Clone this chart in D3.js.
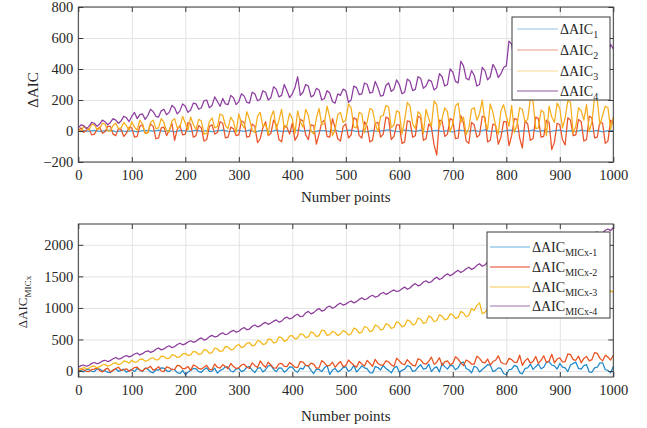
<!DOCTYPE html>
<html>
<head>
<meta charset="utf-8">
<script src="https://cdn.jsdelivr.net/npm/d3@7"></script>
<style>
  body { margin: 0; background: #fff; }
  svg text { font-family: "Liberation Serif", "DejaVu Serif", serif; fill: #262626; }
</style>
</head>
<body>
<div id="chart"></div>
<script>
const width = 647
const height = 428

const xTicks = [0, 100, 200, 300, 400, 500, 600, 700, 800, 900, 1000]
const yTicksTop = [-200, 0, 200, 400, 600, 800]
const yTicksBottom = [0, 500, 1000, 1500, 2000]

// top panel series (sampled evenly over 0..1000)
const aic1 = [0,3,-2,4,-3,2,5,-4,1,-2, 3,-5,2,4,-1,6,-3,2,-6,4, 1,-3,5,-2,3,-4,2,6,-1,-3,
  4,-2,5,-5,2,3,-4,6,-2,1, -3,5,-1,4,-6,2,3,-2,5,-4, 2,6,-3,1,-5,4,-2,3,7,-1,
  -4,5,2,-3,6,-5,1,4,-2,3, -6,5,2,-1,4,-3,7,-2,1,-5, 3,6,-4,2,-1,5,-3,4,-6,2,
  5,-2,3,-4,6,1,-3,4,-5,2, 3]
const aic2 = [0,20,-10,5,15,-25,-20,10,25,-15,-5,30,30,-20,-30,15,10,-35,-15,25,
  20,-40,-35,30,40,-15,-10,45,30,-50,-45,20,25,-30,5,50,-60,10,35,-25,
  -20,55,45,-40,-30,35,20,-65,-55,30,40,-20,-10,60,50,-45,-40,25,15,-30,
  -25,65,55,-40,-35,45,30,-75,-50,20,60,-30,-15,70,40,-55,-70,35,25,-20,
  50,-60,-30,75,65,-25,-55,40,35,-85,-20,55,70,-35,-40,80,20,-50,-65,30,
  45,-45,-25,85,75,-30,-45,60,30,-70,-60,50,55,-40,-20,90,80,-55,-35,40,
  40,-80,-70,65,60,-40,-30,95,85,-60,-50,45,25,-90,-155,70,65,-35,-20,80,
  70,-50,-45,100,50,-65,-80,55,40,-40,-25,95,90,-70,-60,45,35,-85,-40,60,
  60,-95,-30,80,75,-45,-110,65,45,-60,-50,90,80,-40,-35,70,55,-120,-70,50,
  40,-55,-90,85,70,-30,-25,75,60,-65,-55,95,85,-45,-40,60,50,-80,-65,70,
  45]
const aic3 = [10,-5,30,20,5,45,40,10,15,50,45,0,0,35,50,15,20,55,35,5,
  60,25,5,70,45,-15,-10,55,70,15,20,80,55,0,-5,65,80,20,25,95,
  50,5,90,40,10,75,65,-20,-15,60,85,20,30,110,100,35,15,90,60,-10,
  110,50,20,125,75,5,-10,95,120,30,45,-25,90,130,10,70,140,15,35,115,
  80,-15,130,60,25,140,100,0,-20,85,145,40,50,160,90,-30,10,105,120,55,
  70,175,150,25,20,120,110,-10,60,145,135,50,-5,95,100,165,155,20,40,130,
  120,-20,70,185,160,45,15,125,105,-15,140,80,30,195,170,20,80,150,125,-5,
  45,160,180,55,90,-25,20,140,150,70,110,200,60,10,175,120,35,-20,130,170,
  95,30,165,-10,40,150,140,60,75,210,190,15,20,135,120,-30,160,90,55,180,
  145,20,85,195,185,-15,30,150,130,70,170,-5,60,215,200,40,100,160,150,10,
  90]
const aic4 = [20,40,35,15,30,55,50,30,45,70,60,40,55,80,70,50,65,95,85,60,
  95,120,80,105,110,75,100,140,125,95,90,130,140,105,120,165,150,110,130,175,
  160,120,135,180,175,140,150,195,200,150,165,220,190,160,210,175,170,230,215,170,
  190,240,225,185,180,250,240,195,205,260,250,200,215,285,270,220,230,300,260,215,
  240,280,350,230,250,300,290,220,230,275,265,200,210,260,245,190,180,240,230,270,
  260,185,200,290,280,235,240,310,300,245,250,320,280,225,230,295,310,255,270,330,
  300,240,250,335,320,260,270,350,340,275,290,330,320,265,280,370,350,290,300,400,
  380,320,310,450,420,340,330,390,360,290,300,410,390,330,350,430,400,345,370,410,
  420,580,560,440,430,500,470,420,440,520,490,430,450,540,500,440,460,520,480,500,
  510,450,470,560,530,480,490,570,540,490,500,590,560,500,520,610,600,470,480,560,
  530]

// bottom panel series
const mic1 = [0,10,-15,25,20,-5,-10,35,30,0,5,-20,-25,15,35,-5,10,30,-20,5,
  25,-10,40,15,-5,45,30,-15,-30,20,15,50,45,5,-10,30,20,-25,-40,10,
  -60,-20,10,40,35,-10,-20,25,50,-5,0,45,-35,10,25,70,60,0,-15,35,
  40,-10,10,60,70,15,-25,40,55,-15,20,80,90,25,-10,50,45,-20,15,65,
  60,5,-20,45,30,95,75,10,-40,30,25,-10,50,85,-55,15,40,-15,10,55,
  65,-5,20,90,-15,30,80,50,35,-25,-30,70,55,15,90,40,10,-30,45,75,
  -20,10,30,85,70,-5,5,60,100,30,40,110,-10,45,65,-15,120,70,30,90,
  85,20,50,130,140,40,20,-30,75,55,-15,25,60,100,95,-10,10,50,40,-40,
  -60,20,30,90,70,-25,-45,40,50,110,25,70,110,35,60,140,150,95,80,30,
  120,60,50,-10,95,120,140,40,30,85,100,-15,-20,50,60,130,130,20,10,-30,
  70]
const mic2 = [0,35,20,-5,-10,25,30,50,5,-15,25,45,-15,10,40,60,10,20,35,-5,
  20,55,60,15,0,40,45,75,15,30,70,0,-10,65,50,20,25,90,80,35,
  40,70,10,95,75,40,30,60,90,25,20,110,60,45,100,70,35,120,70,40,
  50,95,110,60,40,130,85,55,160,100,60,140,95,50,45,115,120,75,70,135,
  100,60,55,150,140,90,80,125,110,45,50,165,130,80,90,140,60,110,150,70,
  85,175,130,90,60,150,110,80,170,120,75,185,120,95,95,160,145,100,70,205,
  160,115,100,180,130,90,80,195,175,120,110,155,220,105,140,210,90,145,160,100,
  120,225,190,130,85,175,150,110,110,235,200,140,130,190,95,150,170,240,140,115,
  110,200,180,140,135,250,90,160,200,125,150,230,120,170,240,135,160,265,130,190,
  210,145,150,270,260,180,170,235,130,200,230,160,180,290,280,200,160,250,220,175,
  250]
const mic3 = [40,20,60,35,45,75,80,50,70,95,105,75,90,120,130,100,115,160,150,125,
  170,140,145,185,190,155,165,200,210,175,180,235,230,195,200,255,250,215,225,270,
  280,245,255,310,300,265,270,340,330,280,290,365,350,310,320,390,380,335,345,400,
  420,370,390,440,450,400,410,480,470,420,430,505,500,445,455,540,530,470,490,555,
  560,510,520,590,580,530,540,620,600,545,560,650,640,565,575,630,610,560,590,640,
  620,570,590,680,660,600,615,705,690,625,640,730,710,650,665,750,730,675,690,780,
  760,700,720,810,790,730,745,840,820,755,770,870,850,780,800,890,870,810,825,905,
  890,835,850,945,920,860,880,990,960,1040,1080,910,930,985,900,1020,970,925,940,1010,
  1000,945,960,1060,1030,975,990,1080,1060,1000,1010,1110,1080,1030,1040,1125,1100,1045,1060,1150,
  1130,1075,1090,1180,1150,1100,1110,1210,1180,1130,1140,1230,1200,1150,1170,1290,1260,1180,1190,1270,
  1250]
const mic4 = [60,85,95,75,90,120,135,115,130,160,170,150,165,195,215,190,200,230,245,225,
  240,270,285,255,275,305,320,295,310,345,365,335,350,380,400,370,385,420,440,415,
  430,460,480,455,470,505,525,490,505,545,565,540,550,585,605,575,590,625,645,615,
  630,665,690,655,665,710,730,700,715,750,770,740,760,790,810,775,790,835,855,825,
  840,880,900,860,870,920,945,905,925,965,990,950,965,1010,1030,995,1015,1055,1075,1045,
  1060,1090,1110,1080,1100,1135,1160,1130,1145,1180,1200,1170,1185,1225,1245,1215,1235,1265,1285,1260,
  1270,1305,1330,1295,1315,1360,1385,1350,1365,1410,1430,1400,1415,1460,1485,1450,1470,1515,1540,1510,
  1535,1570,1595,1560,1585,1620,1645,1610,1630,1675,1700,1660,1680,1725,1745,1710,1730,1770,1790,1760,
  1780,1815,1840,1805,1825,1865,1885,1850,1870,1910,1935,1895,1915,1960,1980,1945,1960,2005,2025,1995,
  2010,2045,2070,2030,2055,2095,2115,2075,2095,2140,2160,2120,2140,2185,2205,2170,2190,2230,2250,2225,
  2270]

const topSubs = ["1", "2", "3", "4"]
const bottomSubs = ["MICx-1", "MICx-2", "MICx-3", "MICx-4"]

const svg = d3.select("div#chart").append("svg").attr("width", width).attr("height", height)
svg.append("rect").attr("width", width).attr("height", height).attr("fill", "#fff")

const left = 78.3, right = 613.3

function panel(cfg) {
  const g = svg.append("g")
  const x = d3.scaleLinear().domain([0, 1000]).range([left, right])
  const y = d3.scaleLinear().domain(cfg.yDomain).range([cfg.bottom, cfg.top])

  // grid
  g.append("g").attr("transform", `translate(0, ${cfg.bottom})`)
    .call(d3.axisBottom(x).tickValues(xTicks).tickSize(-(cfg.bottom - cfg.top)).tickFormat(""))
    .call(a => a.select(".domain").remove())
    .selectAll("line").attr("stroke", "#e3e3e3")
  g.append("g").attr("transform", `translate(${left}, 0)`)
    .call(d3.axisLeft(y).tickValues(cfg.yTicks).tickSize(-(right - left)).tickFormat(""))
    .call(a => a.select(".domain").remove())
    .selectAll("line").attr("stroke", "#e3e3e3")

  // lines
  cfg.series.forEach((s, k) => {
    const line = d3.line().x((d, i) => x(i * 1000 / (s.length - 1))).y(d => y(d))
    g.append("path").datum(s).attr("d", line)
      .attr("fill", "none").attr("stroke", cfg.colors[k])
      .attr("stroke-width", 1.25).attr("stroke-linejoin", "round")
  })

  // axes, ticks inside on all sides
  const axisColor = "#3a3a3a"
  const fmt = d3.format("d")
  const bx = g.append("g").attr("transform", `translate(0, ${cfg.bottom})`)
    .call(d3.axisBottom(x).tickValues(xTicks).tickSize(-5).tickPadding(8).tickFormat(fmt))
  const tx = g.append("g").attr("transform", `translate(0, ${cfg.top})`)
    .call(d3.axisTop(x).tickValues(xTicks).tickSize(-5).tickFormat(""))
  const ly = g.append("g").attr("transform", `translate(${left}, 0)`)
    .call(d3.axisLeft(y).tickValues(cfg.yTicks).tickSize(-5).tickPadding(5).tickFormat(fmt))
  const ry = g.append("g").attr("transform", `translate(${right}, 0)`)
    .call(d3.axisRight(y).tickValues(cfg.yTicks).tickSize(-5).tickFormat(""))
  ;[bx, tx, ly, ry].forEach(a => {
    a.selectAll(".domain").attr("stroke", axisColor).attr("d", null)
    a.selectAll("line").attr("stroke", axisColor)
    a.selectAll("text").attr("font-size", 14.5).attr("fill", "#262626")
      .attr("font-family", "Liberation Serif, serif")
  })
  g.append("rect").attr("x", left).attr("y", cfg.top)
    .attr("width", right - left).attr("height", cfg.bottom - cfg.top)
    .attr("fill", "none").attr("stroke", axisColor).attr("stroke-width", 1)

  // x label
  g.append("text").attr("x", (left + right) / 2).attr("y", cfg.xLabelY)
    .attr("text-anchor", "middle").attr("font-size", 15).text("Number points")

  // y label
  const yl = g.append("text")
    .attr("transform", `translate(${cfg.yLabelX}, ${cfg.yLabelY}) rotate(-90)`)
    .attr("text-anchor", "middle").attr("font-size", cfg.yLabelSize).text("ΔAIC")
  if (cfg.yLabelSub) {
    yl.append("tspan").attr("dy", 4).attr("font-size", cfg.yLabelSize * 0.7).text(cfg.yLabelSub)
  }

  // legend
  const L = cfg.legend
  const lg = g.append("g")
  lg.append("rect").attr("x", L.x0).attr("y", L.y0).attr("width", L.x1 - L.x0).attr("height", L.y1 - L.y0)
    .attr("fill", "#fff").attr("stroke", axisColor).attr("stroke-width", 1)
  cfg.subs.forEach((sub, k) => {
    const yy = L.rows[k]
    lg.append("line").attr("x1", L.lx0).attr("x2", L.lx1).attr("y1", yy).attr("y2", yy)
      .attr("stroke", cfg.legendColors[k]).attr("stroke-width", 1.2)
    const t = lg.append("text").attr("x", L.tx).attr("y", yy + 5).attr("font-size", L.size).text("ΔAIC")
    t.append("tspan").attr("dy", 4).attr("font-size", L.subSize).text(sub)
  })
}

panel({
  top: 7, bottom: 162, yDomain: [-200, 800], yTicks: yTicksTop,
  series: [aic1, aic2, aic3, aic4],
  colors: ["#47a3dc", "#e8532a", "#f6ad1c", "#8d3d9f"],
  legendColors: ["#8fc3e8", "#ee9c88", "#f8d890", "#8b5aa0"],
  subs: topSubs,
  xLabelY: 202, yLabelX: 38, yLabelY: 90, yLabelSize: 15,
  legend: { x0: 512, x1: 610, y0: 17, y1: 100, rows: [29, 50, 71, 91], lx0: 517, lx1: 558, tx: 560, size: 14, subSize: 10 }
})

panel({
  top: 224, bottom: 377, yDomain: [-95, 2330], yTicks: yTicksBottom,
  series: [mic1, mic2, mic3, mic4],
  colors: ["#1f88c8", "#e8501e", "#f5b81c", "#8c3c9a"],
  legendColors: ["#6ab0e0", "#e8401e", "#f8c850", "#a070b0"],
  subs: bottomSubs,
  xLabelY: 421, yLabelX: 27, yLabelY: 302, yLabelSize: 13, yLabelSub: "MICx",
  legend: { x0: 487, x1: 610, y0: 232, y1: 318, rows: [247, 267, 287, 306], lx0: 490, lx1: 530, tx: 532, size: 14, subSize: 10 }
})
</script>
</body>
</html>
